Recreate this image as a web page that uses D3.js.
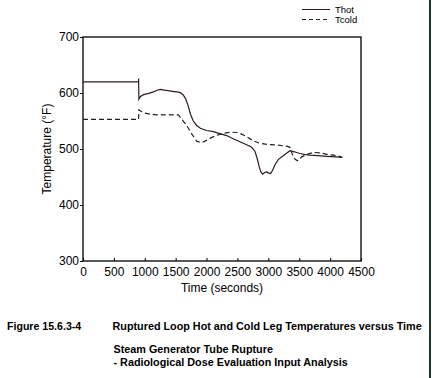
<!DOCTYPE html>
<html><head><meta charset="utf-8">
<script src="https://cdn.jsdelivr.net/npm/d3@7"></script>
<style>
html,body{margin:0;padding:0;background:#fff;}
svg{display:block;font-family:"Liberation Sans",Arial,sans-serif;}
</style></head>
<body>
<svg id="chart" width="432" height="378"></svg>
<script>
const thot = [[0,620],[900,620],[900,626],[900,620],[905,589],[930,594],[980,597],[1050,599],[1140,602],[1200,605],[1250,606.5],[1320,605],[1450,603],[1570,601],[1620,597],[1660,590],[1700,578],[1740,562],[1785,550],[1840,542],[1900,537],[2000,533],[2110,531],[2200,528],[2325,524],[2440,518],[2540,513],[2640,508],[2730,503],[2783,496],[2820,483],[2853,468],[2880,459],[2907,455],[2940,458],[2972,459],[3005,457],[3037,456],[3070,462],[3107,472],[3160,481],[3241,488],[3300,493],[3350,497],[3420,495],[3511,492],[3600,490],[3673,489],[3800,488],[3950,487],[4100,486],[4200,485]];
const tcold = [[0,553],[900,553],[905,570],[930,568],[1003,564],[1100,562],[1200,561],[1350,561],[1543,561],[1600,553],[1678,542],[1760,527],[1840,514],[1920,511],[1990,515],[2055,519],[2150,524],[2271,528],[2400,530],[2487,529.5],[2560,527],[2649,522],[2750,515],[2864,510],[3000,508],[3134,507],[3300,505],[3350,503],[3390,490],[3430,482],[3470,479],[3510,482],[3539,486],[3620,490],[3727,494],[3850,493],[3943,490.5],[4050,489],[4186,486]];
const xTicks = [0,500,1000,1500,2000,2500,3000,3500,4000,4500];
const yTicks = [300,400,500,600,700];
const seriesNames = ["Thot","Tcold"];
const xTitle = "Time (seconds)";
const yTitle = "Temperature (°F)";
const captionNum = "Figure 15.6.3-4";
const captionTitle = "Ruptured Loop Hot and Cold Leg Temperatures versus Time";
const captionSub = ["Steam Generator Tube Rupture","- Radiological Dose Evaluation Input Analysis"];

const svg = d3.select("#chart");
const L=83, R=361, T=37, B=261;
const x = d3.scaleLinear().domain([0,4500]).range([L,R]);
const y = d3.scaleLinear().domain([300,700]).range([B,T]);

svg.append("line").attr("x1",430).attr("x2",430).attr("y1",0).attr("y2",378)
  .attr("stroke","#1f3433").attr("stroke-width",2);

svg.append("rect").attr("x",L).attr("y",T).attr("width",R-L).attr("height",B-T)
  .attr("fill","none").attr("stroke","#000").attr("stroke-width",1.3);

const xa = svg.append("g").attr("transform",`translate(0,${B})`)
  .call(d3.axisBottom(x).tickValues(xTicks).tickSizeInner(-3).tickSizeOuter(0).tickPadding(6).tickFormat(d3.format("d")));
xa.select(".domain").remove();
xa.selectAll("text").attr("font-size",12).attr("fill","#000").attr("font-family","Liberation Sans, Arial, sans-serif");
xa.selectAll("line").attr("stroke","#000");

const ya = svg.append("g").attr("transform",`translate(${L},0)`)
  .call(d3.axisLeft(y).tickValues(yTicks).tickSizeInner(3).tickSizeOuter(0).tickPadding(1).tickFormat(d3.format("d")));
ya.select(".domain").remove();
ya.selectAll("text").attr("font-size",12).attr("fill","#000").attr("font-family","Liberation Sans, Arial, sans-serif");
ya.selectAll("line").attr("stroke","#000");

const line = d3.line().x(d=>x(d[0])).y(d=>y(d[1])).curve(d3.curveLinear);
svg.append("path").datum(thot).attr("d",line).attr("fill","none")
  .attr("stroke","#2e1a26").attr("stroke-width",1.2);
svg.append("path").datum(tcold).attr("d",line).attr("fill","none")
  .attr("stroke","#222").attr("stroke-width",1.2).attr("stroke-dasharray","5,3");

const lg = svg.append("g");
lg.append("line").attr("x1",302).attr("x2",330).attr("y1",9.5).attr("y2",9.5).attr("stroke","#2e1a26").attr("stroke-width",1);
lg.append("line").attr("x1",302).attr("x2",330).attr("y1",19.5).attr("y2",19.5).attr("stroke","#222").attr("stroke-width",1).attr("stroke-dasharray","4,3");
lg.append("text").attr("x",335).attr("y",13).attr("font-size",9.5).text(seriesNames[0]);
lg.append("text").attr("x",335).attr("y",23).attr("font-size",9.5).text(seriesNames[1]);

svg.append("text").attr("x",(L+R)/2).attr("y",292).attr("text-anchor","middle").attr("font-size",12).text(xTitle);
svg.append("text").attr("transform",`translate(51,${(T+B)/2}) rotate(-90)`).attr("text-anchor","middle").attr("font-size",12).text(yTitle);

const capSize = 10.8;
svg.append("text").attr("x",7).attr("y",330).attr("font-size",10.6).attr("font-weight","bold").text(captionNum);
svg.append("text").attr("x",112.5).attr("y",330).attr("font-size",capSize).attr("font-weight","bold").text(captionTitle);
svg.append("text").attr("x",113.5).attr("y",353).attr("font-size",capSize).attr("font-weight","bold").text(captionSub[0]);
svg.append("text").attr("x",113.5).attr("y",365.5).attr("font-size",capSize).attr("font-weight","bold").text(captionSub[1]);
</script>
</body></html>
